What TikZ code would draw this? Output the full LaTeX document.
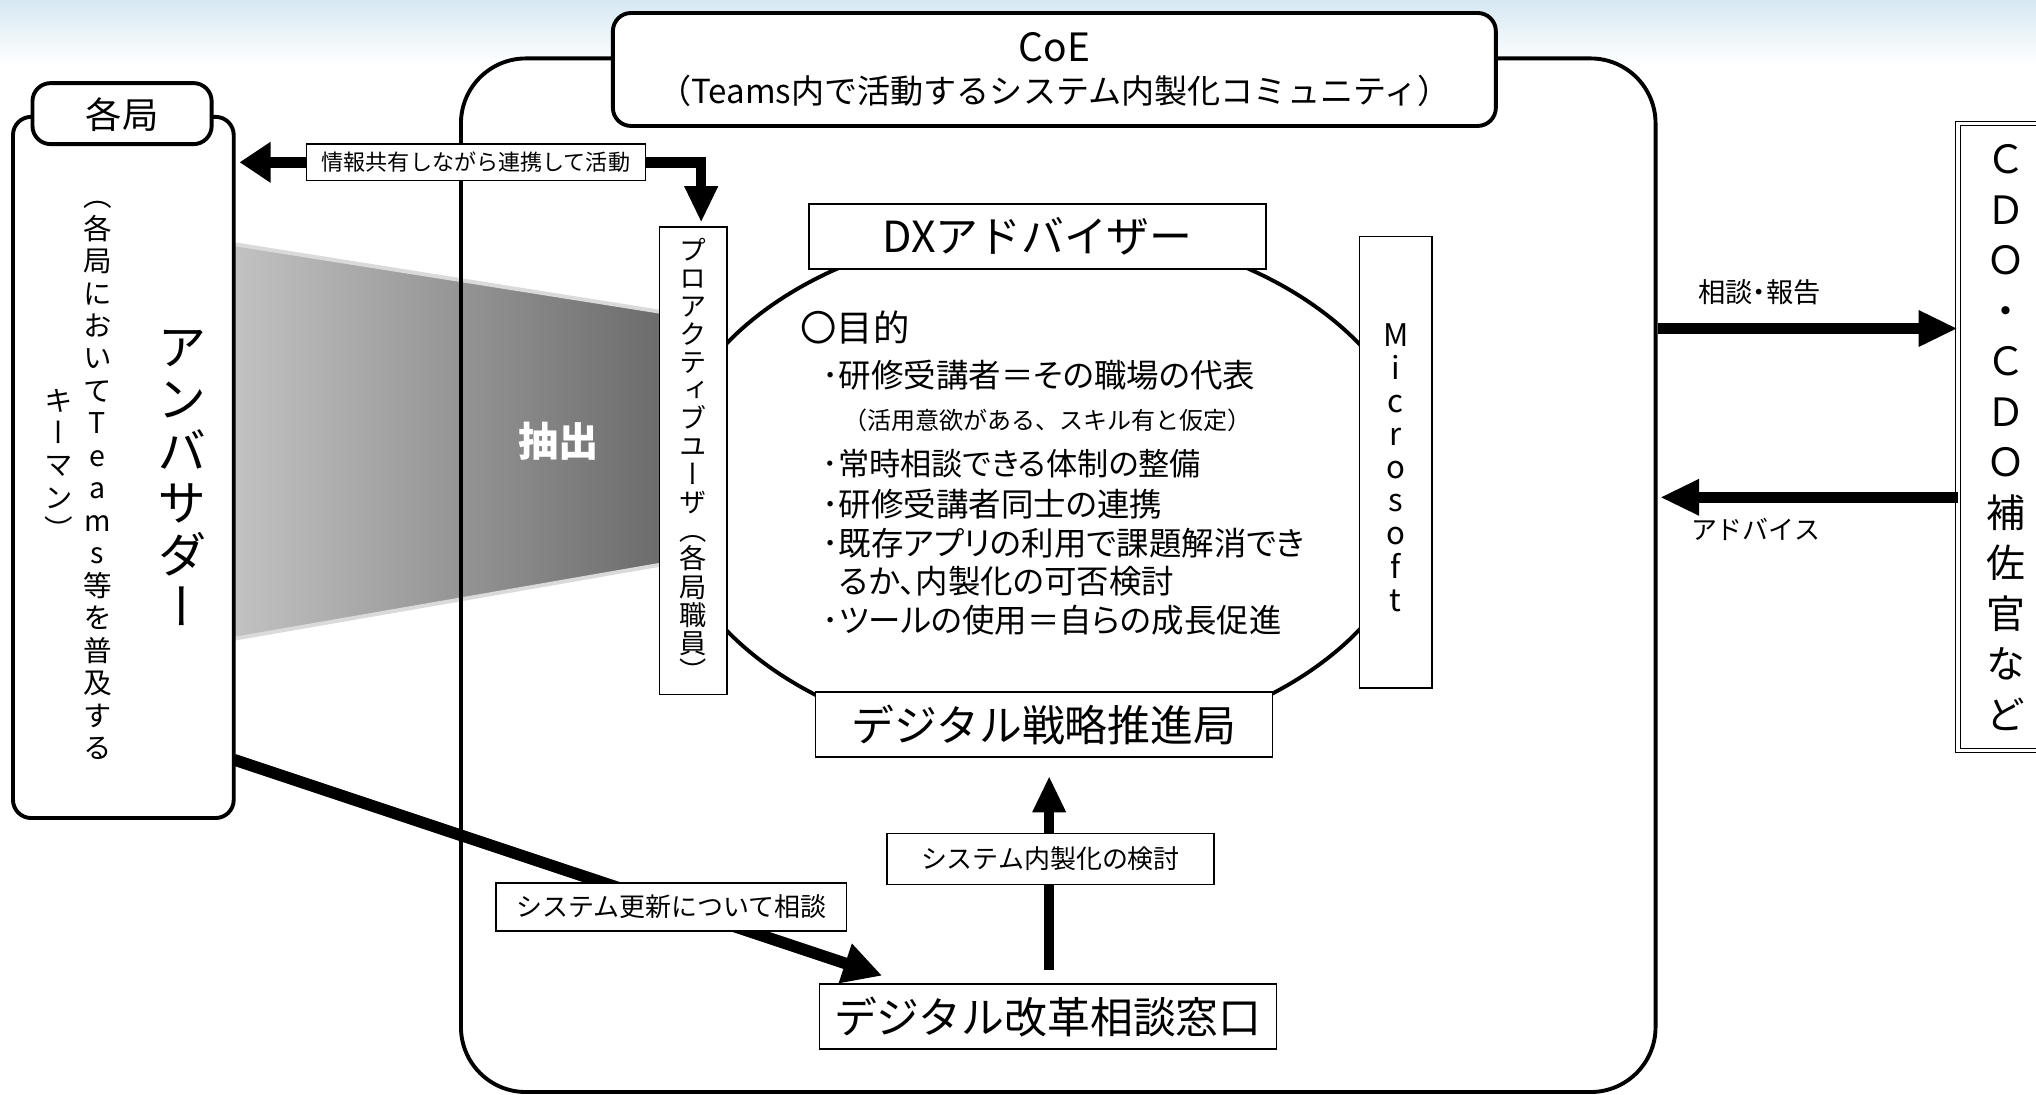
\documentclass[tikz,border=0pt]{standalone}
\usepackage{fontspec}
\setmainfont{Noto Sans CJK JP}
\newfontfamily\jpv[RawFeature=+vert]{Noto Sans CJK JP}
\newfontfamily\jpp[RawFeature=+palt]{Noto Sans CJK JP}
\usetikzlibrary{arrows.meta,shapes.geometric,calc}
\newcommand\fsz[2]{\fontsize{#1}{#2}\selectfont}
\definecolor{hdr}{HTML}{D6E8F2}
\definecolor{trapL}{HTML}{C2C2C2}
\definecolor{trapR}{HTML}{6C6C6C}
\definecolor{trapE}{HTML}{DADADA}
\begin{document}
\begin{tikzpicture}[x=1pt,y=-1pt,
  box/.style={draw, line width=1.2pt, fill=white, inner sep=0pt},
  lbl/.style={draw, line width=1pt, fill=white, inner sep=0pt},
  rbox/.style={draw, line width=3pt, fill=white, inner sep=0pt, rounded corners=14pt},
]
\useasboundingbox (0,0) rectangle (1568,843);
% header band
\shade[top color=hdr, bottom color=white] (0,0) rectangle (1568,50);

% extraction trapezoid
\shade[left color=trapL, right color=trapR] (180,188) -- (508,240) -- (508,435) -- (180,492) -- cycle;
\draw[trapE, line width=3pt] (180,188) -- (508,240);
\draw[trapE, line width=3pt] (180,492) -- (508,435);
\node[text=white, font=\bfseries\fsz{31}{31}] (chushutsu) at (430,340) {抽出};

% CoE big box
\node[draw, line width=3pt, rounded corners=50pt, minimum width=920pt, minimum height=796pt, inner sep=0pt] (coe) at (815,443) {};

% CoE title
\node[rbox, minimum width=680pt, minimum height=87pt] (coetitle) at (812,53.5) {};
\node[font=\fsz{30}{30}] (coename) at (812,36) {CoE};
\node[font=\fsz{25.5}{25.5}] (coesub) at (812,70) {（Teams内で活動するシステム内製化コミュニティ）};

% kakyoku
\node[rbox, minimum width=170pt, minimum height=540pt] (kakyoku) at (95,360) {};
\node[rbox, minimum width=138pt, minimum height=47pt] (kakyokulbl) at (94,87.5) {};
\node[font=\fsz{28}{28}] (kakyokutxt) at (94,88) {各局};
\node[font=\jpv\fsz{38}{40}, align=center] (amb) at (140,368) {ア\\ン\\バ\\サ\\ダ\\ー};
\node[font=\jpv\fsz{22}{25}, align=center] (ambsub1) at (75,370) {（\\各\\局\\に\\お\\い\\て\\T\\e\\a\\m\\s\\等\\を\\普\\及\\す\\る};
\node[font=\jpv\fsz{22}{25}, align=center] (ambsub2) at (45,358) {キ\\ー\\マ\\ン\\）};

% octagon-like circle
\node[ellipse, draw, line width=3pt, fill=white, minimum width=584pt, minimum height=400pt, inner sep=0pt] (oct) at (803,375) {};

% inner boxes
\node[box, minimum width=52pt, minimum height=360pt] (pro) at (534,355) {};
\node[font=\jpv\fsz{21}{21.6}, align=center] (protxt) at (534,354) {プ\\ロ\\ア\\ク\\テ\\ィ\\ブ\\ユ\\ー\\ザ\\（\\各\\局\\職\\員\\）};
\node[box, minimum width=352pt, minimum height=50pt, font=\fsz{33}{33}] (dx) at (799,182) {DXアドバイザー};
\node[box, minimum width=56pt, minimum height=348pt] (ms) at (1075,356) {};
\node[font=\fsz{24}{25.5}, align=center] (mstxt) at (1075,360) {M\\i\\c\\r\\o\\s\\o\\f\\t};
\node[box, minimum width=352pt, minimum height=50pt, font=\fsz{33}{33}] (senryaku) at (804,558) {デジタル戦略推進局};
\node[box, minimum width=352pt, minimum height=50pt, font=\fsz{33}{33}] (madoguchi) at (807,783) {デジタル改革相談窓口};

% purpose text
\node[anchor=west, font=\jpp\fsz{28}{28}] (mokuteki) at (613,252) {〇目的};
\node[anchor=west, font=\jpp\fsz{25}{25}] (p1) at (630,289) {･研修受講者＝その職場の代表};
\node[anchor=west, font=\fsz{18.5}{18.5}] (p1b) at (646,324) {（活用意欲がある、スキル有と仮定）};
\node[anchor=west, font=\jpp\fsz{24}{24}] (p2) at (630,357) {･常時相談できる体制の整備};
\node[anchor=west, font=\jpp\fsz{25}{25}] (p3) at (630,388) {･研修受講者同士の連携};
\node[anchor=west, font=\jpp\fsz{25}{25}] (p4) at (630,418) {･既存アプリの利用で課題解消でき};
\node[anchor=west, font=\jpp\fsz{25}{25}] (p4b) at (643,448) {るか、内製化の可否検討};
\node[anchor=west, font=\jpp\fsz{25}{25}] (p5) at (630,478) {･ツールの使用＝自らの成長促進};

% CDO box
\node[draw, line width=0.8pt, double, double distance=2.5pt, minimum width=82pt, minimum height=483pt, inner sep=0pt] (cdo) at (1549,336.5) {};
\node[font=\jpv\fsz{30}{38.9}, align=center] (cdotxt) at (1545,337) {Ｃ\\Ｄ\\Ｏ\\・\\Ｃ\\Ｄ\\Ｏ\\補\\佐\\官\\な\\ど};

% arrows
\coordinate (ytop) at (0,125);
\draw[line width=8pt, line join=miter, {Triangle[width=30pt,length=24pt]}-{Triangle[width=24pt,length=28pt]}, shorten <=3pt, shorten >=3pt]
  (kakyoku.east |- ytop) -| ([xshift=6pt]pro.north);
\node[lbl, minimum width=261pt, minimum height=28pt, font=\fsz{17}{17}] (l1) at (366.5,125) {情報共有しながら連携して活動};

\coordinate (dstart) at (180,585);
\draw[line width=9pt, -{Triangle[width=30pt,length=30pt]}] (dstart) -- ($(madoguchi.north west)+(49,-6)$);
\node[lbl, minimum width=270pt, minimum height=37pt, font=\fsz{20}{20}] (l2) at (517,698.5) {システム更新について相談};

\draw[line width=8pt, -{Triangle[width=24pt,length=28pt]}, shorten <=10pt, shorten >=14pt] ([xshift=1pt]madoguchi.north) -- ([xshift=4pt]senryaku.south);
\node[lbl, minimum width=252pt, minimum height=39pt, font=\fsz{20}{20}] (l3) at (809,661.5) {システム内製化の検討};

\coordinate (yr1) at (0,253);
\coordinate (yr2) at (0,383);
\draw[line width=8pt, -{Triangle[width=26pt,length=30pt]}] (coe.east |- yr1) -- (cdo.west |- yr1);
\draw[line width=8pt, -{Triangle[width=26pt,length=30pt]}] (cdo.west |- yr2) -- ([xshift=2pt]coe.east |- yr2);
\node[font=\jpp\fsz{21}{21}] (sodan) at (1355,225) {相談・報告};
\node[font=\fsz{20}{20}] (advice) at (1352,408) {アドバイス};
\end{tikzpicture}
\end{document}
